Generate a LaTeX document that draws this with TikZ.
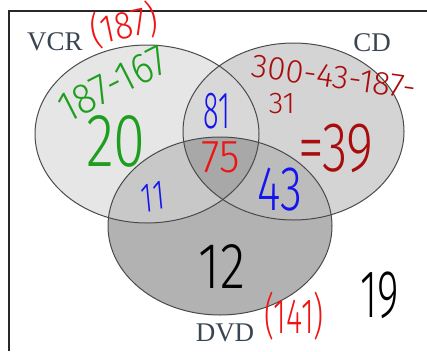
\documentclass[tikz,border=0pt]{standalone}
\usepackage{fontspec}
\setmainfont{Liberation Serif}
\newfontfamily\handfont{Fira Sans Light}
\newcommand\hsz[1]{\fontsize{#1}{#1}\selectfont}
\definecolor{hred}{HTML}{EE1414}
\definecolor{hdred}{HTML}{A80C0C}
\definecolor{hgreen}{HTML}{1E9E1E}
\definecolor{hblue}{HTML}{1414EE}
\definecolor{labc}{HTML}{3A4552}
\definecolor{edgec}{HTML}{4A4A4A}
\begin{document}
\begin{tikzpicture}[x=1pt,y=-1pt,
  hand/.style={font=\handfont, inner sep=0pt},
  setlabel/.style={font=\fontsize{27}{27}\selectfont, text=labc, inner sep=0pt},
  outline/.style={draw=edgec, line width=1pt}]
\useasboundingbox (0,0) rectangle (427,351);
\def\vcr{(147,134) ellipse [x radius=112pt, y radius=89pt]}
\def\cd{(293.5,131.5) ellipse [x radius=110.5pt, y radius=88.5pt]}
\def\dvd{(220,226) ellipse [x radius=112pt, y radius=89pt]}
% single regions
\fill[fill={rgb,255:red,230;green,230;blue,230}] \vcr;
\fill[fill={rgb,255:red,212;green,212;blue,212}] \cd;
\fill[fill={rgb,255:red,178;green,178;blue,178}] \dvd;
% pairwise
\begin{scope}
  \clip \vcr;
  \fill[fill={rgb,255:red,216;green,216;blue,216}] \cd;
  \fill[fill={rgb,255:red,200;green,200;blue,200}] \dvd;
\end{scope}
\begin{scope}
  \clip \cd;
  \fill[fill={rgb,255:red,188;green,188;blue,188}] \dvd;
\end{scope}
\begin{scope}
  \clip \vcr;
  \clip \cd;
  \fill[fill={rgb,255:red,168;green,168;blue,168}] \dvd;
\end{scope}
\draw[outline] \vcr;
\draw[outline] \cd;
\draw[outline] \dvd;
% frame
\draw[line width=1.6pt, draw={rgb,255:red,40;green,40;blue,40}] (9,351) -- (9,11) -- (427,11);
% set labels
\node[setlabel] (lvcr) at (55,42) {VCR};
\node[setlabel] (lcd) at (372,43) {CD};
\node[setlabel] (ldvd) at (225,333) {DVD};
% handwritten numbers
\node[hand, text=hred, rotate=12, yscale=1.15] (t187) at (124,25) {\hsz{34}(187)};
\node[hand, text=hgreen, rotate=27, yscale=1.1] (tsub) at (113,84) {\hsz{39}187-167};
\node[hand, text=hgreen, yscale=1.3] (t20) at (116,141) {\hsz{58}20};
\node[hand, text=hblue, xscale=0.8, yscale=1.45] (t81) at (217,111) {\hsz{36}81};
\node[hand, text=hred, yscale=1.1] (t75) at (221,157) {\hsz{42}75};
\node[hand, text=hblue, xscale=0.75, yscale=1.1, rotate=8] (t11) at (153,197) {\hsz{38}11};
\node[hand, text=hblue, yscale=1.4] (t43) at (280,190) {\hsz{45}43};
\node[hand, text=black, yscale=1.25] (t12) at (222,267) {\hsz{52}12};
\node[hand, text=black, xscale=0.92, yscale=1.5] (t19) at (380,295) {\hsz{45}19};
\node[hand, text=hred, yscale=1.6] (t141) at (294,316) {\hsz{31}(141)};
\node[hand, text=hdred, rotate=-8] (tcd) at (334,77) {\hsz{33}300-43-187-};
\node[hand, text=hdred] (t31) at (282,104) {\hsz{30}31};
\node[hand, text=hdred, yscale=1.35] (t39) at (336,148) {\hsz{52}=39};
\end{tikzpicture}
\end{document}
